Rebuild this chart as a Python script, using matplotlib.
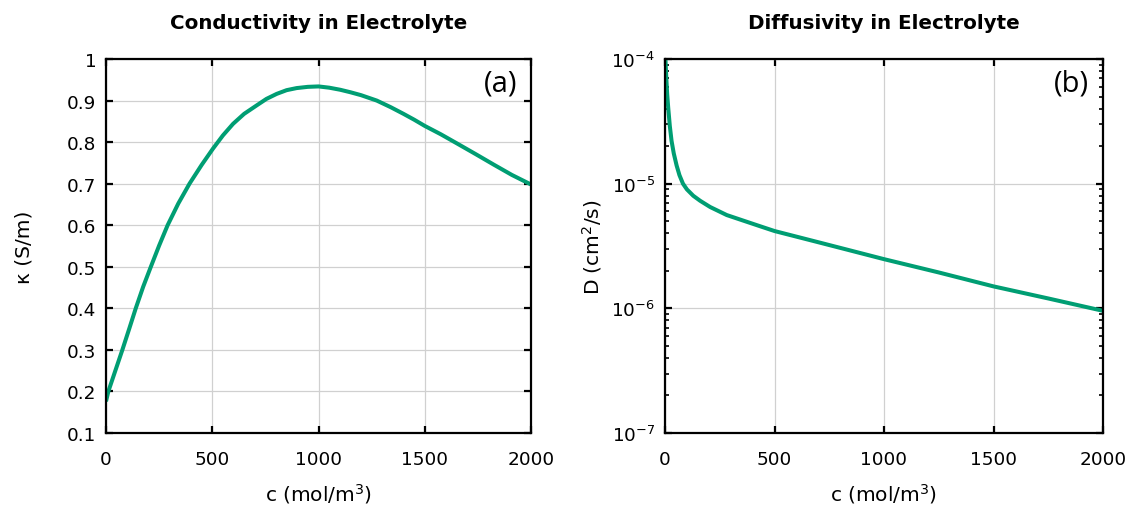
import matplotlib
matplotlib.use("Agg")
import matplotlib.pyplot as plt
from matplotlib.ticker import FuncFormatter, LogLocator, MultipleLocator, NullFormatter

# ---- data ----
c_kappa = [0, 11, 38, 77, 110, 140, 175, 211, 250, 290, 340, 393, 450, 503, 550, 598,
           650, 708, 755, 803, 850, 897, 950, 1000, 1050, 1102, 1150, 1200, 1274, 1340,
           1400, 1450, 1500, 1575, 1651, 1740, 1824, 1910, 2000]
kappa = [0.176, 0.200, 0.241, 0.300, 0.352, 0.400, 0.452, 0.500, 0.551, 0.600, 0.652,
         0.700, 0.745, 0.784, 0.816, 0.844, 0.868, 0.888, 0.904, 0.916, 0.925, 0.930,
         0.933, 0.934, 0.931, 0.926, 0.920, 0.913, 0.900, 0.884, 0.868, 0.854, 0.839,
         0.819, 0.797, 0.771, 0.746, 0.721, 0.698]

c_diff = [0, 2, 6, 10, 15, 22, 30, 40, 53, 66, 82, 100, 129, 160, 206, 282, 358, 435,
          500, 600, 700, 850, 1000, 1250, 1500, 1750, 2000]
diff = [1.2e-4, 1.0e-4, 7.0e-5, 5.2e-5, 4.0e-5, 2.9e-5, 2.2e-5, 1.75e-5, 1.4e-5,
        1.17e-5, 1.0e-5, 9.0e-6, 8.0e-6, 7.3e-6, 6.5e-6, 5.6e-6, 5.05e-6, 4.55e-6,
        4.17e-6, 3.76e-6, 3.39e-6, 2.9e-6, 2.48e-6, 1.94e-6, 1.5e-6, 1.2e-6, 0.955e-6]

x_ticks = [0, 500, 1000, 1500, 2000]
titles = ["Conductivity in Electrolyte", "Diffusivity in Electrolyte"]
panel_labels = ["(a)", "(b)"]

GREEN = "#009e73"
plt.rcParams['font.family'] = ['DejaVu Sans']
plt.rcParams['mathtext.default'] = 'regular'

fig = plt.figure(figsize=(11.32, 5.06), dpi=100)
W, H = 1132, 506
ax1 = fig.add_axes([106 / W, (H - 434) / H, (531 - 106) / W, (434 - 60) / H])
ax2 = fig.add_axes([665 / W, (H - 434) / H, (1103 - 665) / W, (434 - 60) / H])

for ax in (ax1, ax2):
    ax.set_xlim(0, 2000)
    ax.set_xticks(x_ticks)
    ax.grid(True, which='major', color='#d0d0d0', lw=0.9)
    ax.set_axisbelow(True)
    for s in ax.spines.values():
        s.set_linewidth(1.6)
    ax.tick_params(which='major', direction='in', top=True, right=True,
                   length=5, width=1.6, labelsize=13.3)
    ax.tick_params(axis='x', which='major', pad=12)
    ax.tick_params(axis='y', which='major', pad=7)
    ax.tick_params(which='minor', direction='in', top=True, right=True,
                   length=3, width=1.2)
    ax.set_xlabel("c (mol/m$^3$)", fontsize=14.5, labelpad=10)

# panel (a)
ax1.plot(c_kappa, kappa, color=GREEN, lw=2.9, solid_capstyle='butt',
         solid_joinstyle='round')
ax1.set_ylim(0.1, 1.0)
ax1.yaxis.set_major_locator(MultipleLocator(0.1))
ax1.yaxis.set_major_formatter(FuncFormatter(lambda v, p: f"{v:g}"))
ax1.set_ylabel("κ (S/m)", fontsize=14.5, labelpad=24)
ax1.set_title(titles[0], fontsize=14.3, fontweight='bold', pad=22)

# panel (b)
ax2.plot(c_diff, diff, color=GREEN, lw=2.9, solid_capstyle='butt',
         solid_joinstyle='round')
ax2.set_yscale('log')
ax2.set_ylim(1e-7, 1e-4)
ax2.yaxis.set_major_locator(LogLocator(base=10, numticks=10))
ax2.yaxis.set_minor_locator(LogLocator(base=10, subs=range(2, 10), numticks=10))
ax2.yaxis.set_minor_formatter(NullFormatter())
ax2.set_ylabel("D (cm$^2$/s)", fontsize=14.5, labelpad=5)
ax2.set_title(titles[1], fontsize=14.3, fontweight='bold', pad=22)
ax2.grid(False, which='minor')

for ax, lab in zip((ax1, ax2), panel_labels):
    ax.text(0.968, 0.975, lab, transform=ax.transAxes, ha='right', va='top',
            fontsize=21, family=['Open Sans', 'DejaVu Sans'])

fig.savefig("out.png", dpi=100)
